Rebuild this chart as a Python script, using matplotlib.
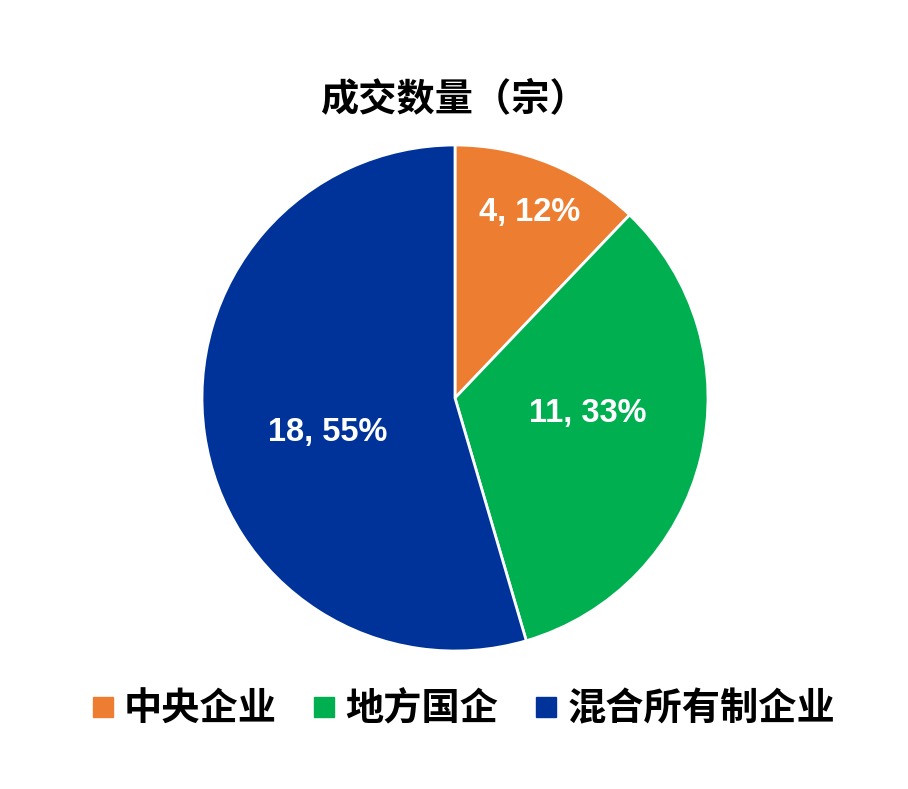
import matplotlib
matplotlib.use("Agg")
import matplotlib.pyplot as plt
from matplotlib.lines import Line2D
import numpy as np

plt.rcParams['font.family'] = ['Noto Sans CJK SC', 'DejaVu Sans']

# --- dados ---
categorias = ['中央企业', '地方国企', '混合所有制企业']
valores = [4, 11, 18]
cores = ['#ED7D31', '#00B050', '#003399']
titulo = '成交数量（宗）'

# posições dos rótulos (fração do raio, ângulo em graus no sistema matplotlib)
pos_rotulos = [(0.79, 68.0), (0.53, -6.5), (0.52, 195.0)]

W, H = 908, 789
fig = plt.figure(figsize=(W / 100, H / 100), dpi=100)

cx, cy, R = 455, 398, 253
ax = fig.add_axes([(cx - R) / W, (H - cy - R) / H, 2 * R / W, 2 * R / H])

total = sum(valores)
wedges, _ = ax.pie(valores, colors=cores, startangle=90, counterclock=False,
                   radius=1, wedgeprops=dict(edgecolor='white', linewidth=2))
ax.set_xlim(-1, 1)
ax.set_ylim(-1, 1)
ax.set_aspect('equal')
ax.axis('off')

for v, (r, ang) in zip(valores, pos_rotulos):
    pct = round(100 * v / total)
    ax.text(r * np.cos(np.radians(ang)), r * np.sin(np.radians(ang)),
            f"{v}, {pct}%", color='white', fontsize=23.5, fontweight='bold',
            family=['Liberation Sans', 'DejaVu Sans'],
            ha='center', va='center')

fig.text(454 / W, 1 - 99 / H, titulo, fontsize=27.5, fontweight='black',
         ha='center', va='center')

handles = [Line2D([0], [0], marker='s', linestyle='none', markersize=14,
                  markerfacecolor=c, markeredgecolor=c) for c in cores]
fig.legend(handles, categorias, loc='center', ncol=3,
           bbox_to_anchor=(464 / W, 1 - 709 / H), frameon=False,
           prop=dict(size=27.5, weight='black'),
           handlelength=0.5, handletextpad=0.3, columnspacing=1.0)

fig.savefig('out.png', dpi=100, facecolor='white')
